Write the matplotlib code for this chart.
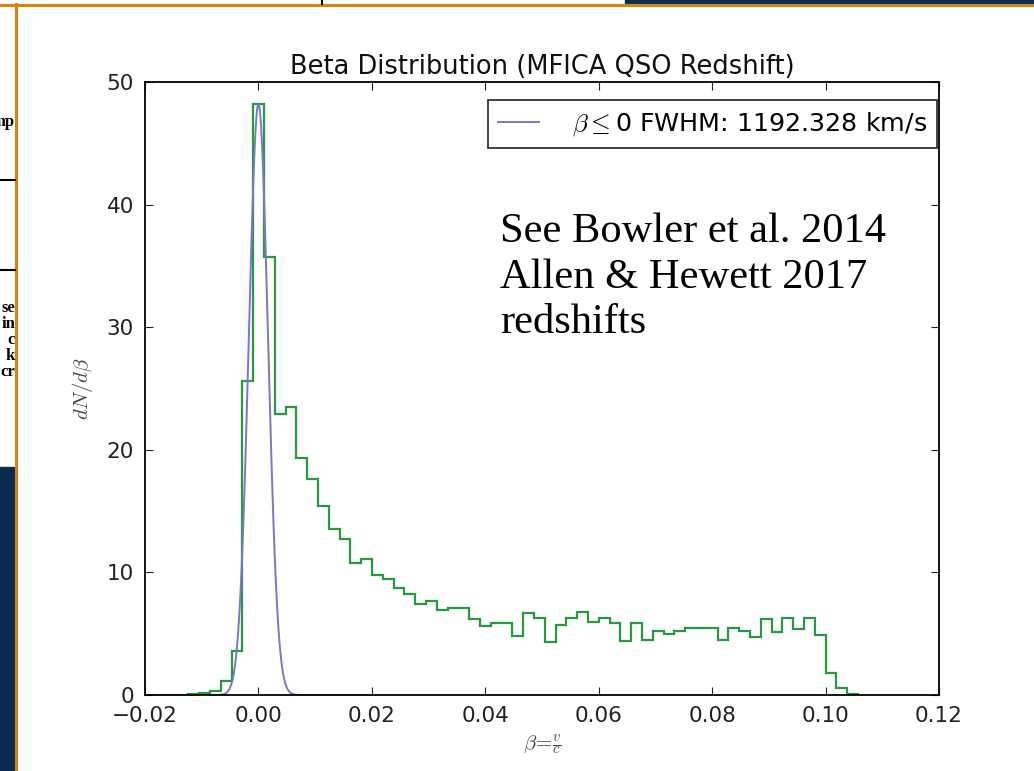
import numpy as np
import matplotlib as mpl
import matplotlib.pyplot as plt

# histogram of beta = v/c (dN/dbeta per bin)
bin_lo = -0.01235
bin_hi = 0.10573
counts = [0.1, 0.2, 0.35, 1.15, 3.6, 25.6, 48.2, 35.7, 22.9, 23.5,
          19.3, 17.6, 15.4, 13.5, 12.7, 10.8, 11.1, 9.8, 9.5, 8.75,
          8.2, 7.4, 7.7, 6.9, 7.1, 7.1, 6.2, 5.6, 5.85, 5.9,
          4.8, 6.65, 6.3, 4.35, 5.7, 6.25, 6.8, 5.95, 6.3, 5.85,
          4.4, 5.9, 4.5, 5.2, 5.0, 5.25, 5.5, 5.5, 5.5, 4.45,
          5.5, 5.2, 4.75, 6.2, 5.15, 6.3, 5.4, 6.25, 4.9, 1.8,
          0.55, 0.1]

# gaussian fit to the beta<=0 side
fit_amp = 48.2
fit_mu = 0.0
fwhm_kms = 1192.328
c_kms = 299792.458

xticks = [-0.02, 0.00, 0.02, 0.04, 0.06, 0.08, 0.10, 0.12]
yticks = [0, 10, 20, 30, 40, 50]

# ---- style, close to the old matplotlib look ----
mpl.rcParams['font.family'] = ['DejaVu Sans']
mpl.rcParams['mathtext.fontset'] = 'cm'
mpl.rcParams['xtick.direction'] = 'in'
mpl.rcParams['ytick.direction'] = 'in'
mpl.rcParams['xtick.top'] = True
mpl.rcParams['ytick.right'] = True
mpl.rcParams['xtick.major.size'] = 6
mpl.rcParams['ytick.major.size'] = 6
mpl.rcParams['axes.linewidth'] = 1.3

W, H = 1034, 771
fig = plt.figure(figsize=(W/100, H/100), dpi=100)
fig.patch.set_facecolor('white')

ax = fig.add_axes([145/W, 1-695/H, 794/W, 613/H])

edges = np.linspace(bin_lo, bin_hi, len(counts)+1)
ax.stairs(counts, edges, color='#279a40', linewidth=1.6)

sigma = fwhm_kms / c_kms / (2*np.sqrt(2*np.log(2)))
xg = np.linspace(-0.02, 0.02, 800)
yg = fit_amp*np.exp(-0.5*((xg-fit_mu)/sigma)**2)
ax.plot(xg, yg, color='#7878c8', linewidth=1.4,
        label=r'$\beta\leq$0 FWHM: %.3f km/s' % fwhm_kms)

ax.set_xlim(-0.02, 0.12)
ax.set_ylim(0, 50)
ax.set_xticks(xticks)
ax.set_yticks(yticks)
ax.set_xticklabels([('%.2f' % t).replace('-', '\u2212') for t in xticks])
ax.tick_params(labelsize=15.5, pad=8, colors='#222222')
ax.set_title('Beta Distribution (MFICA QSO Redshift)', fontsize=18.5, pad=6, color='#111111')
ax.set_xlabel(r'$\beta\!=\!\frac{v}{c}$', fontsize=15, labelpad=5, color='#444444')
ax.set_ylabel(r'$dN/d\beta$', fontsize=15, labelpad=8, color='#444444')

leg = ax.legend(loc='upper right', bbox_to_anchor=(0.9975, 0.9706), borderaxespad=0,
                fontsize=18.3, fancybox=False, handlelength=1.6, handletextpad=1.3,
                borderpad=0.4)
leg.get_frame().set_edgecolor('black')
leg.get_frame().set_linewidth(1.3)

# note on the slide (baseline of last line given)
fig.text(500/W, 1-333/H, 'See Bowler et al. 2014\nAllen & Hewett 2017\nredshifts',
         fontsize=30.6, family='Liberation Serif', va='baseline', ha='left',
         linespacing=1.23)

# ---- slide decorations around the chart ----
deco = fig.add_axes([0, 0, 1, 1], zorder=-1)
deco.set_xlim(0, W)
deco.set_ylim(H, 0)
deco.axis('off')
deco.fill_between([0, 15], 467, H, color='#0b2a4f')
deco.fill_between([625, W], 0, 3.5, color='#0b2a4f')
deco.plot([16, 16], [4, H], color='#d9820f', linewidth=2.2)
deco.plot([0, W], [4.5, 4.5], color='#d9820f', linewidth=2.2)
deco.plot([0, 15], [180, 180], color='black', linewidth=1.5)
deco.plot([0, 15], [270, 270], color='black', linewidth=1.5)
deco.plot([322, 322], [0, 4], color='black', linewidth=1.5)
frag = [('mp', 122), ('se', 308), ('in', 324), ('c', 340), ('k', 356), ('cr', 372)]
for s, yy in frag:
    deco.text(15, yy, s, fontsize=12, family='Liberation Serif', ha='right',
              va='center', fontweight='bold', clip_on=True)

fig.savefig('out.png', dpi=100, facecolor='white')
